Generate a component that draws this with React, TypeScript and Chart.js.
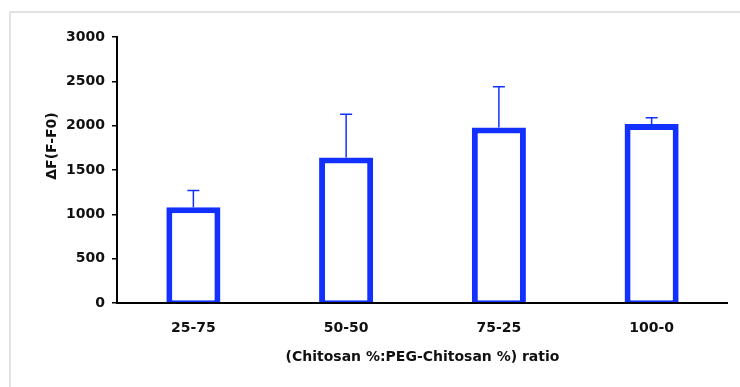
import React, { useEffect, useRef } from 'react';
import { Chart, registerables } from 'chart.js';

Chart.register(...registerables);

const categories: string[] = ['25-75', '50-50', '75-25', '100-0'];
const values: number[] = [1080, 1640, 1980, 2020];
const errors: number[] = [190, 490, 460, 70];
const yMin = 0;
const yMax = 3000;
const yStep = 500;
const yTitle = 'ΔF(F-F0)';
const xTitle = '(Chitosan %:PEG-Chitosan %) ratio';

const BLUE = 'rgb(18, 48, 255)';
const FONT = '"DejaVu Sans", sans-serif';

const extrasPlugin = {
  id: 'extras',
  afterDatasetsDraw(chart: any) {
    const { ctx, chartArea, scales } = chart;
    const meta = chart.getDatasetMeta(0);
    const y = scales.y;
    ctx.save();
    // error bars (upper only)
    ctx.strokeStyle = BLUE;
    ctx.lineWidth = 1.5;
    meta.data.forEach((bar: any, i: number) => {
      const x = bar.x;
      const y0 = y.getPixelForValue(values[i]);
      const y1 = y.getPixelForValue(values[i] + errors[i]);
      ctx.beginPath();
      ctx.moveTo(x, y0);
      ctx.lineTo(x, y1);
      ctx.moveTo(x - 6, y1);
      ctx.lineTo(x + 6, y1);
      ctx.stroke();
    });
    // x axis line over bars
    ctx.strokeStyle = '#000';
    ctx.lineWidth = 2;
    ctx.beginPath();
    ctx.moveTo(chartArea.left - 1, chartArea.bottom);
    ctx.lineTo(chartArea.right, chartArea.bottom);
    ctx.stroke();
    // y title
    ctx.fillStyle = '#111';
    ctx.font = `bold 14px ${FONT}`;
    ctx.textAlign = 'center';
    ctx.textBaseline = 'middle';
    ctx.translate(52, 146);
    ctx.rotate(-Math.PI / 2);
    ctx.fillText(yTitle, 0, 0);
    ctx.restore();
  },
};

export default function App() {
  const canvasRef = useRef<HTMLCanvasElement | null>(null);

  useEffect(() => {
    if (!canvasRef.current) return;
    const chart = new Chart(canvasRef.current, {
      type: 'bar',
      data: {
        labels: categories,
        datasets: [
          {
            data: values,
            backgroundColor: '#ffffff',
            borderColor: BLUE,
            borderWidth: { top: 6, left: 6, right: 6, bottom: 2 },
            borderSkipped: false,
            barPercentage: 0.354,
            categoryPercentage: 1,
          },
        ],
      },
      options: {
        animation: false,
        responsive: true,
        maintainAspectRatio: false,
        layout: { padding: { left: 0, top: 37, right: 12, bottom: 0 } },
        plugins: {
          legend: { display: false },
          tooltip: { enabled: false },
        },
        scales: {
          x: {
            afterFit(scale: any) {
              scale.height = 84;
            },
            grid: { display: false, drawTicks: false },
            border: { display: false },
            ticks: {
              padding: 17,
              color: '#111',
              font: { family: FONT, size: 14, weight: 'bold' },
            },
            title: {
              display: true,
              text: xTitle,
              color: '#111',
              font: { family: FONT, size: 14, weight: 'bold' },
              padding: { top: 0, bottom: 21 },
            },
          },
          y: {
            min: yMin,
            max: yMax,
            afterFit(scale: any) {
              scale.width = 117;
            },
            grid: {
              drawOnChartArea: false,
              drawTicks: true,
              tickLength: 5,
              color: '#000',
              lineWidth: 1.5,
            },
            border: { display: true, color: '#000', width: 2 },
            ticks: {
              stepSize: yStep,
              padding: 7,
              color: '#111',
              font: { family: FONT, size: 14, weight: 'bold' },
              callback: (v: any) => String(v),
            },
          },
        },
      },
      plugins: [extrasPlugin],
    });
    return () => chart.destroy();
  }, []);

  return (
    <div
      style={{
        position: 'fixed',
        left: 0,
        top: 0,
        width: 740,
        height: 387,
        background: '#fff',
        overflow: 'hidden',
      }}
    >
      <div
        style={{
          position: 'absolute',
          left: 9,
          top: 11,
          width: 760,
          height: 400,
          borderTop: '2px solid #e2e2e2',
          borderLeft: '2px solid #e2e2e2',
        }}
      />
      <canvas
        ref={canvasRef}
        style={{ position: 'absolute', left: 0, top: 0, width: 740, height: 387 }}
        width={740}
        height={387}
      />
    </div>
  );
}
